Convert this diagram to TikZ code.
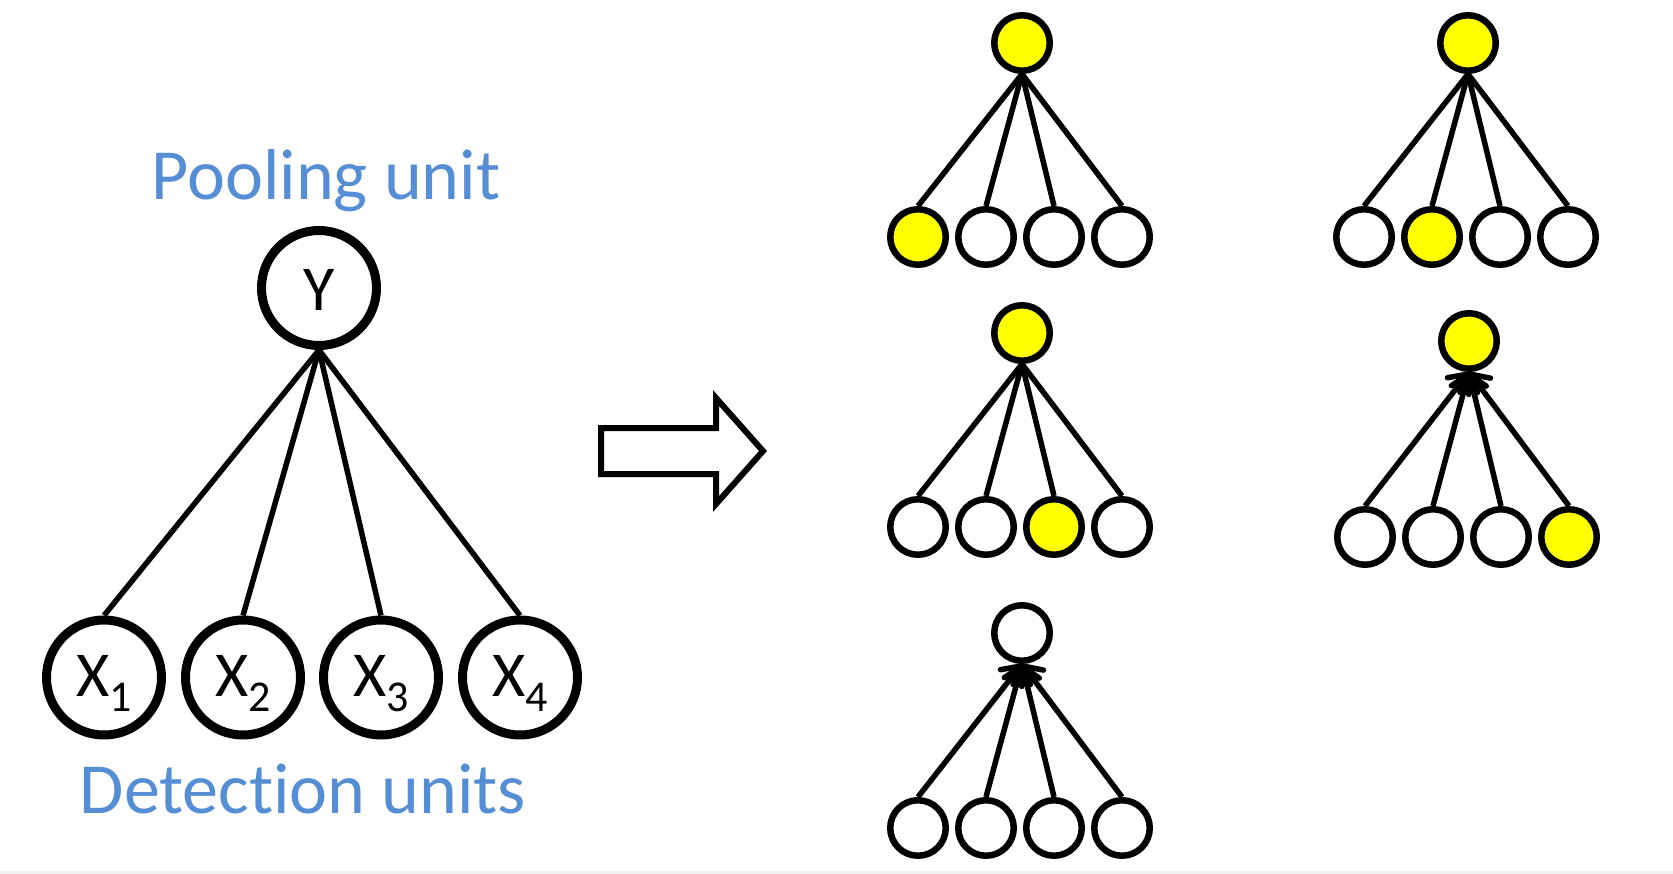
\documentclass[tikz,border=0pt]{standalone}
\usepackage{fontspec}
\setmainfont{Carlito}[Ligatures={NoCommon,NoContextual}]
\usetikzlibrary{arrows.meta}
\definecolor{unitblue}{RGB}{85,142,213}
\definecolor{unityellow}{RGB}{255,255,0}
\newcommand{\xsub}[1]{X\raisebox{-15pt}{\fontsize{44}{44}\selectfont #1}}
\begin{document}
\begin{tikzpicture}[x=1pt,y=1pt]
\tikzstyle{every node}+=[inner sep=0pt]
\tikzstyle{bigunit}=[circle, draw=black, line width=9pt, minimum size=115pt, font=\fontsize{64}{64}\selectfont]
\tikzstyle{smallunit}=[circle, draw=black, line width=6.5pt, minimum size=55.5pt]
\tikzstyle{litunit}=[smallunit, fill=unityellow]
\tikzstyle{edgeline}=[black, line width=5.5pt]
\tikzstyle{upline}=[edgeline, -{Straight Barb[length=15pt,width=27pt,round]}]
\tikzstyle{unitlabel}=[text=unitblue, font=\fontsize{72}{72}\selectfont, anchor=base]
\useasboundingbox (0,0) rectangle (1673,-874);
\fill [black!6] (0,-871) rectangle (1673,-874);
\node [unitlabel] (pooltext) at (326,-199.5) {Pooling unit};
\node [unitlabel] (dettext) at (303,-813) {Detection units};
\node [bigunit, text height=45pt, text depth=0pt] (y) at (319,-288) {Y};
\node [bigunit, text height=47pt, text depth=10pt] (x1) at (104,-677.5) {\xsub{1}};
\node [bigunit, text height=47pt, text depth=10pt] (x2) at (243,-677.5) {\xsub{2}};
\node [bigunit, text height=47pt, text depth=10pt] (x3) at (381,-677.5) {\xsub{3}};
\node [bigunit, text height=47pt, text depth=10pt] (x4) at (520,-677.5) {\xsub{4}};
\draw [edgeline] (y.south) -- (x1.north);
\draw [edgeline] (y.south) -- (x2.north);
\draw [edgeline] (y.south) -- (x3.north);
\draw [edgeline] (y.south) -- (x4.north);
\draw [black, line width=6pt, line join=miter] (601,-428) -- (716,-428) -- (716,-398) -- (763,-451) -- (716,-504) -- (716,-474) -- (601,-474) -- cycle;
\node [litunit] (p1) at (1022,-43) {};
\node [litunit] (d1a) at (918,-237) {};
\node [smallunit] (d1b) at (986,-237) {};
\node [smallunit] (d1c) at (1054,-237) {};
\node [smallunit] (d1d) at (1122,-237) {};
\draw [edgeline] (p1.south) -- (d1a.north);
\draw [edgeline] (p1.south) -- (d1b.north);
\draw [edgeline] (p1.south) -- (d1c.north);
\draw [edgeline] (p1.south) -- (d1d.north);
\node [litunit] (p2) at (1468,-43) {};
\node [smallunit] (d2a) at (1364,-237) {};
\node [litunit] (d2b) at (1432,-237) {};
\node [smallunit] (d2c) at (1500,-237) {};
\node [smallunit] (d2d) at (1568,-237) {};
\draw [edgeline] (p2.south) -- (d2a.north);
\draw [edgeline] (p2.south) -- (d2b.north);
\draw [edgeline] (p2.south) -- (d2c.north);
\draw [edgeline] (p2.south) -- (d2d.north);
\node [litunit] (p3) at (1022,-333) {};
\node [smallunit] (d3a) at (918,-527) {};
\node [smallunit] (d3b) at (986,-527) {};
\node [litunit] (d3c) at (1054,-527) {};
\node [smallunit] (d3d) at (1122,-527) {};
\draw [edgeline] (p3.south) -- (d3a.north);
\draw [edgeline] (p3.south) -- (d3b.north);
\draw [edgeline] (p3.south) -- (d3c.north);
\draw [edgeline] (p3.south) -- (d3d.north);
\node [litunit] (p4) at (1469,-341) {};
\node [smallunit] (d4a) at (1365,-537) {};
\node [smallunit] (d4b) at (1433,-537) {};
\node [smallunit] (d4c) at (1501,-537) {};
\node [litunit] (d4d) at (1569,-537) {};
\draw [upline] (d4a.north) -- (p4.south);
\draw [upline] (d4b.north) -- (p4.south);
\draw [upline] (d4c.north) -- (p4.south);
\draw [upline] (d4d.north) -- (p4.south);
\node [smallunit] (p5) at (1022,-633) {};
\node [smallunit] (d5a) at (918,-828) {};
\node [smallunit] (d5b) at (986,-828) {};
\node [smallunit] (d5c) at (1054,-828) {};
\node [smallunit] (d5d) at (1122,-828) {};
\draw [upline] (d5a.north) -- (p5.south);
\draw [upline] (d5b.north) -- (p5.south);
\draw [upline] (d5c.north) -- (p5.south);
\draw [upline] (d5d.north) -- (p5.south);
\end{tikzpicture}
\end{document}
